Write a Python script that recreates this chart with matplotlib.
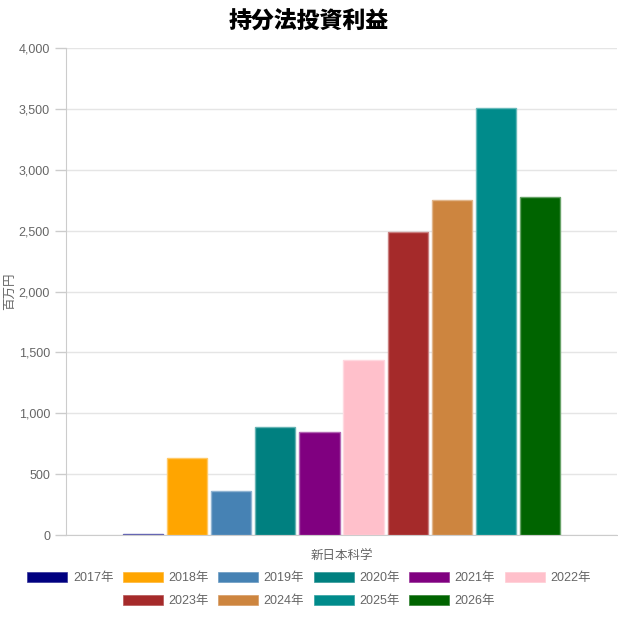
import numpy as np
import matplotlib
matplotlib.use("Agg")
import matplotlib.pyplot as plt
import matplotlib.ticker as mticker
from matplotlib.patches import Patch
from matplotlib.colors import to_rgb

plt.rcParams['font.family'] = ['Liberation Sans', 'Noto Sans CJK JP']

years = ["2017年", "2018年", "2019年", "2020年", "2021年",
         "2022年", "2023年", "2024年", "2025年", "2026年"]
values = [10, 632, 361, 885, 843, 1437, 2489, 2749, 3510, 2776]
colors = ["#000080", "#FFA500", "#4682B4", "#008080", "#800080",
          "#FFC0CB", "#A52A2A", "#CD853F", "#008B8B", "#006400"]
company = "新日本科学"


def lighter(c, f=0.4):
    r, g, b = to_rgb(c)
    return (r + (1 - r) * f, g + (1 - g) * f, b + (1 - b) * f)


fig = plt.figure(figsize=(6.18, 6.18), dpi=100)
ax = fig.add_axes([66 / 618, 1 - 535 / 618, 551 / 618, 487 / 618])

slot = 0.08
n = len(values)
xs = (np.arange(n) - (n - 1) / 2) * slot
for x, v, c in zip(xs, values, colors):
    ax.bar(x, v, width=slot * 0.91, color=c, edgecolor=lighter(c), linewidth=1, zorder=3)

ax.set_xlim(-0.5, 0.5)
ax.set_ylim(0, 4000)
ax.yaxis.set_major_locator(mticker.MultipleLocator(500))
ax.yaxis.set_major_formatter(mticker.FuncFormatter(lambda v, p: f"{int(v):,}"))
ax.set_xticks([0])
ax.set_xticklabels([""])
ax.grid(axis="y", color="#e5e5e5", linewidth=1, zorder=0)

for s in ["top", "right"]:
    ax.spines[s].set_visible(False)
for s in ["left", "bottom"]:
    ax.spines[s].set_color("#cccccc")
ax.tick_params(axis="y", colors="#cccccc", labelcolor="#666666", labelsize=9, length=8, width=1)
ax.tick_params(axis="x", length=0)
ax.set_ylabel("百万円", color="#666666", fontsize=9)
ax.yaxis.set_label_coords(-(66 - 16) / 551, 0.5)
ax.set_xlabel(company, color="#666666", fontsize=9)
ax.xaxis.set_label_coords(0.5, -(551 - 535) / 487)

fig.text(0.5, 1 - 22 / 618, "持分法投資利益", ha="center", va="center",
         fontsize=16.5, fontweight="heavy", color="#000000")

handles = [Patch(facecolor=c, edgecolor=lighter(c, 0.2), linewidth=0.5) for c in colors]
common = dict(frameon=False, fontsize=9, handlelength=3.2, handleheight=0.9,
              handletextpad=0.45, columnspacing=0.75, labelcolor="#666666",
              loc="center", borderaxespad=0, borderpad=0)
fig.legend(handles[:6], years[:6], ncol=6,
           bbox_to_anchor=(0.5, 1 - 578 / 618), **common)
fig.legend(handles[6:], years[6:], ncol=4,
           bbox_to_anchor=(0.5, 1 - 601 / 618), **common)

fig.savefig("out.png", dpi=100)
